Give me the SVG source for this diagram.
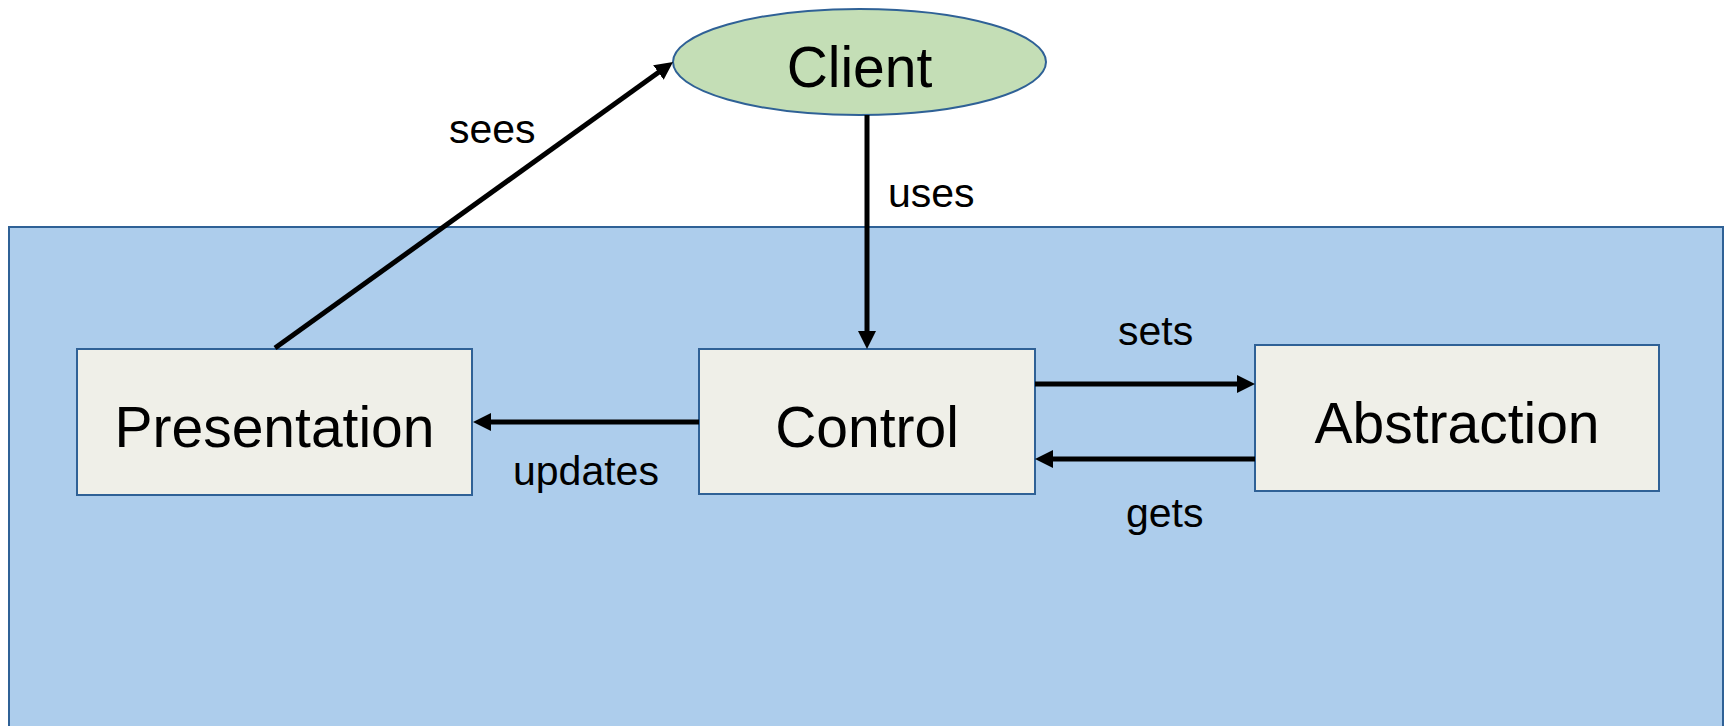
<svg xmlns="http://www.w3.org/2000/svg" width="1727" height="726" viewBox="0 0 1727 726">
  <style>
    .box { fill: #EFEFE8; stroke: #2F6196; stroke-width: 2; }
    .big { font-family: "Liberation Sans", Arial, sans-serif; font-size: 57px; fill: #000; text-anchor: middle; }
    .lbl { font-family: "Liberation Sans", Arial, sans-serif; font-size: 41px; fill: #000; }
    .edge { fill: none; stroke: #000; stroke-width: 5; }
  </style>
  <defs>
    <marker id="arrow" markerUnits="userSpaceOnUse" markerWidth="18" markerHeight="18" refX="8" refY="9" orient="auto">
      <path d="M0,0 L18,9 L0,18 z" fill="#000"/>
    </marker>
  </defs>

  <rect width="1727" height="726" fill="#FFFFFF"/>

  <!-- system container -->
  <g id="system">
    <rect x="9" y="227" width="1714" height="510" fill="#ADCDEC" stroke="#2F6196" stroke-width="2"/>
  </g>

  <!-- nodes -->
  <g id="client">
    <ellipse cx="859.5" cy="62" rx="186.5" ry="53" fill="#C4DEB6" stroke="#2F6196" stroke-width="2"/>
    <text class="big" x="859.5" y="87">Client</text>
  </g>
  <g id="presentation">
    <rect class="box" x="77" y="349" width="395" height="146"/>
    <text class="big" x="274.5" y="447">Presentation</text>
  </g>
  <g id="control">
    <rect class="box" x="699" y="349" width="336" height="145"/>
    <text class="big" x="867" y="447">Control</text>
  </g>
  <g id="abstraction">
    <rect class="box" x="1255" y="345" width="404" height="146"/>
    <text class="big" x="1457" y="443">Abstraction</text>
  </g>

  <!-- connectors -->
  <g id="connectors">
    <path class="edge" d="M275,348 L664.9,67.8" marker-end="url(#arrow)"/>
    <path class="edge" d="M867,115 L867,339" marker-end="url(#arrow)"/>
    <path class="edge" d="M699,422 L483,422" marker-end="url(#arrow)"/>
    <path class="edge" d="M1035,384 L1245,384" marker-end="url(#arrow)"/>
    <path class="edge" d="M1255,459 L1045,459" marker-end="url(#arrow)"/>
    <text class="lbl" x="449" y="143">sees</text>
    <text class="lbl" x="888" y="207">uses</text>
    <text class="lbl" x="513" y="485">updates</text>
    <text class="lbl" x="1118" y="345">sets</text>
    <text class="lbl" x="1126" y="527">gets</text>
  </g>
</svg>
